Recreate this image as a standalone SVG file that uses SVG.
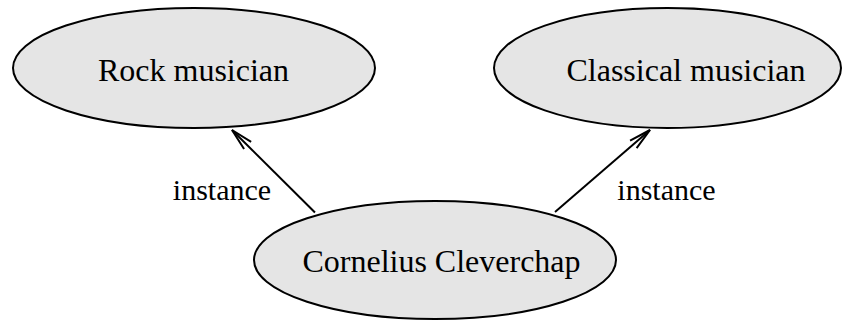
<svg xmlns="http://www.w3.org/2000/svg" width="842" height="321" viewBox="0 0 842 321">
<style>
.node ellipse{fill:#e5e5e5;stroke:#000;stroke-width:2}
text{font-family:"Liberation Serif","Times New Roman",serif;fill:#000;text-anchor:middle}
.nl{font-size:32px}
.el{font-size:30px}
.edge{stroke:#000;stroke-width:2;fill:none}
</style>
<defs>
<marker id="arr" markerUnits="userSpaceOnUse" viewBox="-24 -7 26 14" refX="0" refY="0" markerWidth="26" markerHeight="14" orient="auto" overflow="visible">
<path d="M-22,-5 L0,0 L-22,5" fill="none" stroke="#000" stroke-width="2"/>
</marker>
</defs>
<g id="rock" class="node">
<ellipse cx="194" cy="68" rx="181" ry="60"/>
<text class="nl" x="193.5" y="81">Rock musician</text>
</g>
<g id="classical" class="node">
<ellipse cx="667.5" cy="68" rx="173.5" ry="60"/>
<text class="nl" x="686" y="81">Classical musician</text>
</g>
<g id="cornelius" class="node">
<ellipse cx="435" cy="260" rx="181" ry="59"/>
<text class="nl" x="441.5" y="272">Cornelius Cleverchap</text>
</g>
<g id="connectors">
<line class="edge" x1="315" y1="212.5" x2="232" y2="130" marker-end="url(#arr)"/>
<line class="edge" x1="555" y1="212" x2="650" y2="130" marker-end="url(#arr)"/>
<text class="el" x="222" y="200">instance</text>
<text class="el" x="666.5" y="200">instance</text>
</g>
</svg>
